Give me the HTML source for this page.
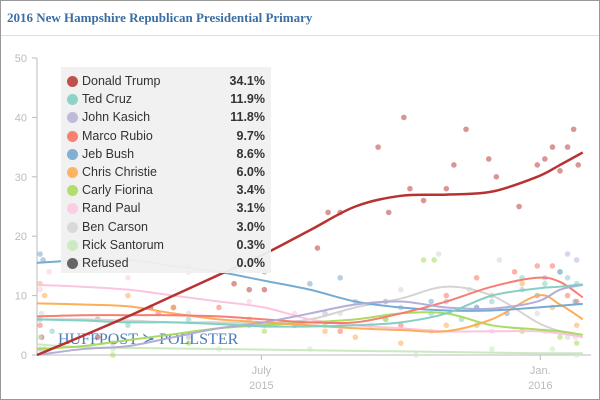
<!DOCTYPE html>
<html><head><meta charset="utf-8">
<style>
html,body{margin:0;padding:0;background:#fff}
#wrap{position:relative;width:598px;height:398px;border:1px solid #999;overflow:hidden;font-family:"Liberation Sans",sans-serif}
#title{position:absolute;left:6px;top:9px;font-family:"Liberation Serif",serif;font-weight:bold;font-size:13px;color:#3b6fa3}
#sep{position:absolute;left:0;top:34px;width:598px;height:1px;background:#ddd}
#legend{position:absolute;left:60px;top:66px;width:210px;height:206px;background:rgba(240,240,240,0.95)}
.row{position:absolute;left:6px;width:198px;height:18px;font-size:12.5px;color:#333}
.row .sw{position:absolute;left:0;top:3px;width:11px;height:11px;border-radius:6px}
.row .nm{position:absolute;left:15px;top:1px}
.row .vl{position:absolute;right:0;top:1px;font-weight:bold}
</style></head><body>
<div id="wrap">
<div id="title">2016 New Hampshire Republican Presidential Primary</div>
<div id="sep"></div>
<svg id="chart" width="598" height="398" style="position:absolute;left:0;top:0"></svg>
<div id="legend"></div>
</div>
<script>
const NS="http://www.w3.org/2000/svg";
const names=["Donald Trump","Ted Cruz","John Kasich","Marco Rubio","Jeb Bush","Chris Christie","Carly Fiorina","Rand Paul","Ben Carson","Rick Santorum","Refused"];
const latest=["34.1%","11.9%","11.8%","9.7%","8.6%","6.0%","3.4%","3.1%","3.0%","0.3%","0.0%"];
const colors=["#c0504d","#8dd3c7","#bebada","#fb8072","#80b1d3","#fdb462","#b3de69","#fccde5","#d9d9d9","#ccebc5","#666666"];
const lineColors=["#b83232","#7ecdbf","#b0aad6","#f8766a","#6fa6d2","#fcaa50","#a8d85a","#fbc2de","#d2d2d2","#c6e8be","#666666"];
const trendDays=[0,30,60,90,120,150,180,210,240,270,300,330,345,360];
const trumpT=[0,3.2,6.5,10,13.5,17,21,25,26.8,27,27.5,30,32,34.1];
const cruzT=[6,5.8,5.5,5.5,5.2,4.8,4.8,5,5.5,7,10,11.2,11.5,11.9];
const kasichT=[0,1,1.5,3,4.5,5.5,7,8.5,9,8,7.8,9,11,11.8];
const rubioT=[6.5,6.7,6.7,6.7,6.5,6,5.5,5.5,7,9,11.5,13,12.3,9.7];
const bushT=[15.5,16,16,15,14,12.5,11,9,8,7.5,7.5,8,8.3,8.6];
const christieT=[8.7,8.5,8.2,7,6,5.5,5,4.5,4.2,4,6,10,8.5,6];
const fiorinaT=[1,1.5,2.5,3.5,4.5,5,5.5,6,7,7,5,4.3,4,3.4];
const paulT=[11.8,11.5,11,10,9,8,6,5,4.5,4,4,4,3.6,3.1];
const carsonT=[6,6,5.8,5.5,5.5,5.3,6,8,9.5,11.5,10,5.5,4,3];
const santorumT=[1.8,1.3,1.2,1.1,1,0.9,0.8,0.7,0.6,0.5,0.4,0.3,0.3,0.3];
const trumpDots=[[3,3],[40,3],[75,8],[90,8],[130,12],[140,11],[150,11],[185,18],[192,24],[200,24],[225,35],[232,24],[242,40],[246,28],[255,26],[270,28],[275,32],[283,38],[298,33],[303,30],[318,25],[330,32],[335,33],[340,35],[345,31],[350,35],[354,38],[357,32]];
const cruzDots=[[2,6],[10,4],[40,6],[60,5],[100,6],[150,5],[200,5],[230,6],[260,7],[280,6],[300,9],[320,13],[335,12],[345,14],[350,13],[356,12]];
const kasichDots=[[2,1],[50,2],[100,3],[140,5],[190,7],[210,9],[240,8],[270,9],[290,8],[320,11],[335,13],[350,17],[356,16]];
const rubioDots=[[2,5],[40,6],[80,7],[120,8],[170,5],[200,4],[240,5],[270,10],[290,13],[315,14],[330,15],[340,15],[350,10],[356,9]];
const bushDots=[[2,17],[4,16],[40,16],[100,15],[150,14],[180,12],[200,13],[230,9],[260,9],[290,8],[310,7],[330,10],[345,14],[355,9]];
const christieDots=[[2,12],[5,10],[60,10],[90,8],[140,6],[190,4],[210,3],[240,2],[270,5],[300,10],[320,12],[340,8],[356,5]];
const fiorinaDots=[[5,1],[50,0],[100,2],[150,4],[190,5],[230,6],[255,16],[262,16],[290,5],[320,4],[345,3],[356,2]];
const paulDots=[[2,11],[8,14],[60,13],[100,14],[140,9],[170,7],[220,5],[260,4],[300,4],[335,4],[355,3]];
const carsonDots=[[3,7],[40,6],[100,7],[200,7],[240,11],[265,17],[285,11],[305,16],[330,7],[350,3]];
const santorumDots=[[2,3],[50,1],[120,1],[180,1],[250,0],[300,1],[340,1],[356,0]];
const allT=[trumpT,cruzT,kasichT,rubioT,bushT,christieT,fiorinaT,paulT,carsonT,santorumT];
const allD=[trumpDots,cruzDots,kasichDots,rubioDots,bushDots,christieDots,fiorinaDots,paulDots,carsonDots,santorumDots];
const yTicks=[0,10,20,30,40,50];
const xTickDays=[148,332];
const xTickLabels=[["July","2015"],["Jan.","2016"]];

const x0=36,pxDay=1.516,y0=354,pxUnit=5.94;
const X=d=>x0+d*pxDay, Y=v=>y0-v*pxUnit;
const svg=document.getElementById('chart');
function mk(tag,attrs,parent){const e=document.createElementNS(NS,tag);for(const k in attrs)e.setAttribute(k,attrs[k]);(parent||svg).appendChild(e);return e;}
const ax=mk('line',{x1:x0,y1:57,x2:x0,y2:y0,stroke:'#bbb'});


const xa=mk('line',{x1:x0,y1:y0,x2:590,y2:y0,stroke:'#bbb'});


yTicks.forEach(v=>{
  mk('line',{x1:x0-5,y1:Y(v),x2:x0,y2:Y(v),stroke:'#bbb'});
  const t=mk('text',{x:26,y:Y(v)+4,'text-anchor':'end','font-size':11,fill:'#bbb','font-family':'Liberation Sans'});
  t.textContent=v;
  
  
});
xTickDays.forEach((d,i)=>{
  mk('line',{x1:X(d),y1:y0,x2:X(d),y2:y0+5,stroke:'#bbb'});
  xTickLabels[i].forEach((s,j)=>{
    const t=mk('text',{x:X(d),y:y0+19+j*15,'text-anchor':'middle','font-size':11,fill:'#bbb','font-family':'Liberation Sans'});
    t.textContent=s;
    
    
  });
});
allD.forEach((arr,c)=>arr.forEach(p=>{
  const e=mk('circle',{cx:X(p[0]),cy:Y(p[1]),r:2.8,fill:colors[c],opacity:0.6});
  
  
}));
function path(vals){
  const pts=trendDays.map((d,i)=>[X(d),Y(vals[i])]);
  let s='M'+pts[0][0]+','+pts[0][1];
  for(let i=0;i<pts.length-1;i++){
    const p0=pts[Math.max(0,i-1)],p1=pts[i],p2=pts[i+1],p3=pts[Math.min(pts.length-1,i+2)];
    const c1=[p1[0]+(p2[0]-p0[0])/6,p1[1]+(p2[1]-p0[1])/6],c2=[p2[0]-(p3[0]-p1[0])/6,p2[1]-(p3[1]-p1[1])/6];
    s+=`C${c1[0]},${c1[1]} ${c2[0]},${c2[1]} ${p2[0]},${p2[1]}`;
  }
  return s;
}
const wm=mk('text',{x:57,y:343,'font-size':16,fill:'#4a7db5','font-family':'Liberation Serif'});
wm.textContent='HUFFPOST ≻ POLLSTER';


for(let c=allT.length-1;c>=0;c--){
  const e=mk('path',{d:path(allT[c]),fill:'none',stroke:lineColors[c],'stroke-width':c==0?2.5:2,opacity:c==0?1:0.95});
  
  
}
const lg=document.getElementById('legend');
names.forEach((n,i)=>{
  const r=document.createElement('div');r.className='row';r.style.top=(6+i*18.2)+'px';
  r.innerHTML=`<span class="sw" style="background:${colors[i]}"></span><span class="nm">${n}</span><span class="vl">${latest[i]}</span>`;
  
  
  lg.appendChild(r);
});
</script>
</body></html>
